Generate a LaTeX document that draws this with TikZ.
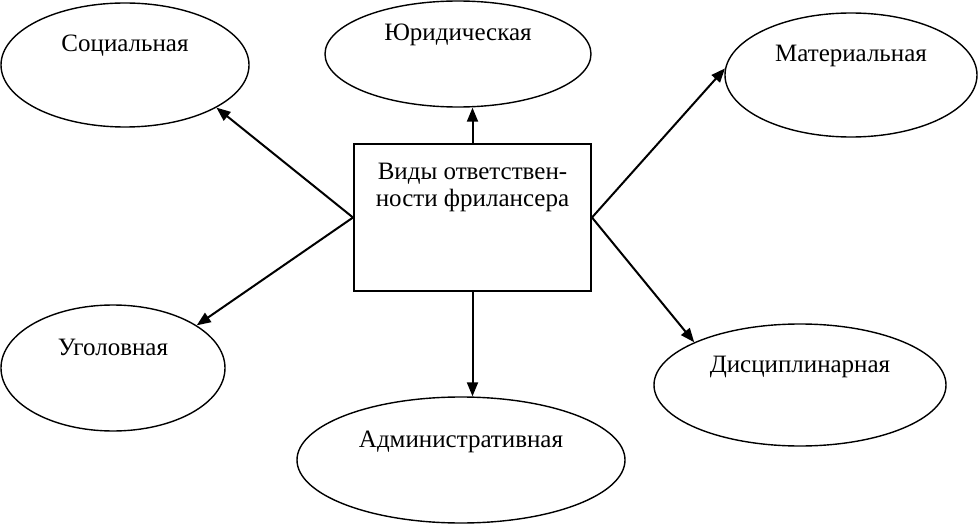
\documentclass[tikz,border=0pt]{standalone}
\usepackage{fontspec}
\setmainfont{Liberation Serif}
\usetikzlibrary{shapes.geometric,arrows.meta}
\newcommand\uplab[1]{\raisebox{13pt}[0pt][0pt]{#1}}
\begin{document}
\begin{tikzpicture}[x=1pt,y=-1pt,
  every node/.style={font=\fontsize{25}{27}\selectfont},
  oval/.style 2 args={ellipse, draw, line width=1.4pt, inner sep=0pt,
    minimum width=#1pt, minimum height=#2pt},
  mainbox/.style={draw, line width=2pt, inner sep=0pt,
    minimum width=237pt, minimum height=147pt},
  arr/.style={line width=2pt, -{Triangle[length=14pt,width=11pt]}}]
\useasboundingbox (0,0) rectangle (978,524);
\node[mainbox] (box) at (472.5,217.5)
  {\parbox[c][147pt][t]{234pt}{\centering\rule{0pt}{36pt}Виды ответствен-\\ности фрилансера}};
\node[oval={248}{124}] (soc) at (125,65) {\uplab{Социальная}};
\node[oval={266}{106}] (jur) at (458,54) {\uplab{Юридическая}};
\node[oval={252}{124}] (mat) at (851,75) {\uplab{Материальная}};
\node[oval={224}{126}] (ugo) at (113,368) {\uplab{Уголовная}};
\node[oval={328}{126}] (adm) at (461,460) {\uplab{Административная}};
\node[oval={292}{122}] (dis) at (800,385) {\uplab{Дисциплинарная}};
\draw[arr] (box.west) -- (soc.-25);
\draw[arr] (box.west) -- (ugo.27);
\draw[arr] (box.north) -- (box.north |- jur.south);
\draw[arr] (box.south) -- (box.south |- adm.north);
\draw[arr] (box.east) -- (mat.177);
\draw[arr] (box.east) -- (dis.158);
\end{tikzpicture}
\end{document}
